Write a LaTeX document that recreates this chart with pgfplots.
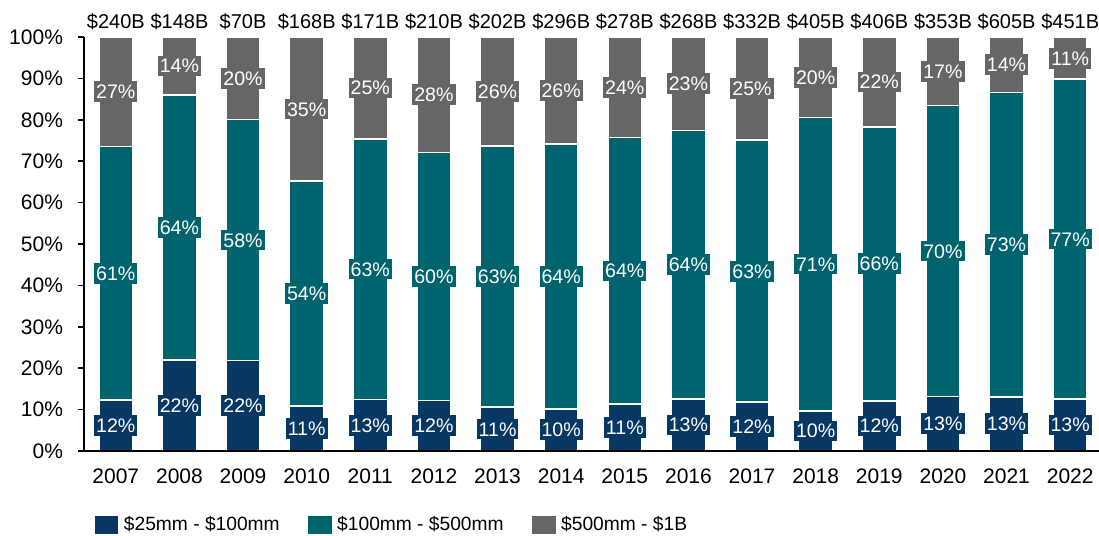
\documentclass[border=0pt]{standalone}
\usepackage{fontspec}
\setmainfont{Liberation Sans}
\usepackage{pgfplots}
\usepackage{pgfplotstable}
\pgfplotsset{compat=1.18}
\definecolor{navy}{RGB}{7,55,99}
\definecolor{teal}{RGB}{0,100,110}
\definecolor{greyseg}{RGB}{102,102,102}

% a,b,c = segment heights; la,lb,lc = printed labels; tot = deal volume
\pgfplotstableread{
x  a     b     c     la lb lc tot
0  12.3  61.2  26.5  12 61 27 240
1  22.0  64.0  14.0  22 64 14 148
2  21.8  58.3  19.9  22 58 20 70
3  10.9  54.3  34.8  11 54 35 168
4  12.5  62.9  24.6  13 63 25 171
5  12.2  59.9  27.9  12 60 28 210
6  10.6  63.1  26.3  11 63 26 202
7  10.2  64.0  25.8  10 64 26 296
8  11.3  64.4  24.3  11 64 24 278
9  12.6  64.8  22.6  13 64 23 268
10 11.8  63.3  24.9  12 63 25 332
11 9.7   70.9  19.4  10 71 20 405
12 12.1  66.2  21.7  12 66 22 406
13 13.2  70.2  16.6  13 70 17 353
14 13.1  73.5  13.4  13 73 14 605
15 12.6  77.2  10.2  13 77 11 451
}\datatable

\pgfplotsset{
  common/.style={
    width=509pt, height=207pt, scale only axis,
    xmin=-0.5, xmax=15.5, ymin=0, ymax=100,
    font=\fontsize{10.5}{12}\selectfont,
    /pgf/number format/assume math mode=true,
  },
  seglabel/.style={
    draw=none, mark=none, nodes near coords,
    point meta=explicit symbolic,
    nodes near coords={\pgfplotspointmeta\%},
    every node near coord/.style={anchor=center, fill=#1, text=white,
      inner xsep=1pt, inner ysep=1.7pt, text height=7pt, text depth=0pt,
      font=\fontsize{9.8}{11}\selectfont},
  },
}

\begin{document}
\begin{tikzpicture}
\path[use as bounding box] (-42pt,-42.5pt) rectangle (507.5pt,225.5pt);
\begin{axis}[
  common,
  axis on top,
  ybar stacked, bar width=17pt,
  axis x line=bottom, axis y line=left,
  axis line style={-, black, line width=0.75pt},
  xtick={0,...,15},
  xticklabels={2007,2008,2009,2010,2011,2012,2013,2014,2015,2016,2017,2018,2019,2020,2021,2022},
  major x tick style={draw=none},
  xticklabel style={yshift=-2.5pt},
  ytick={0,10,...,100},
  yticklabel={\pgfmathprintnumber{\tick}\%},
  yticklabel style={xshift=-4pt},
  tick align=outside, major tick length=3pt,
  major y tick style={black, line width=0.75pt},
  legend style={at={(axis description cs:0.0089,-0.1787)}, anchor=west,
    draw=none, fill=none, inner sep=0pt, legend columns=3,
    font=\fontsize{9.6}{11}\selectfont,
    /tikz/every even column/.append style={column sep=11.5pt}},
  legend image code/.code={\fill[#1] (0pt,-4.75pt) rectangle (12.5pt,4.75pt);},
]
\addplot[fill=navy, draw=white, line width=0.75pt] table[x=x, y=a] {\datatable};
\addplot[fill=teal, draw=white, line width=0.75pt] table[x=x, y=b] {\datatable};
\addplot[fill=greyseg, draw=white, line width=0.75pt] table[x=x, y=c] {\datatable};
\legend{\$25mm - \$100mm, \$100mm - \$500mm, \$500mm - \$1B}
\end{axis}

\begin{axis}[common, hide axis, clip=false]
\addplot[seglabel=navy] table[x=x, y expr=\thisrow{a}/2, meta=la] {\datatable};
\addplot[seglabel=teal] table[x=x, y expr=\thisrow{a}+\thisrow{b}/2, meta=lb] {\datatable};
\addplot[seglabel=greyseg] table[x=x, y expr=\thisrow{a}+\thisrow{b}+\thisrow{c}/2, meta=lc] {\datatable};
\addplot[draw=none, mark=none, nodes near coords, point meta=explicit symbolic,
  nodes near coords={\$\pgfplotspointmeta B},
  every node near coord/.style={anchor=base, yshift=4pt, inner sep=0pt,
    font=\fontsize{10}{11}\selectfont}]
  table[x=x, y expr=100, meta=tot] {\datatable};
\end{axis}
\end{tikzpicture}
\end{document}
